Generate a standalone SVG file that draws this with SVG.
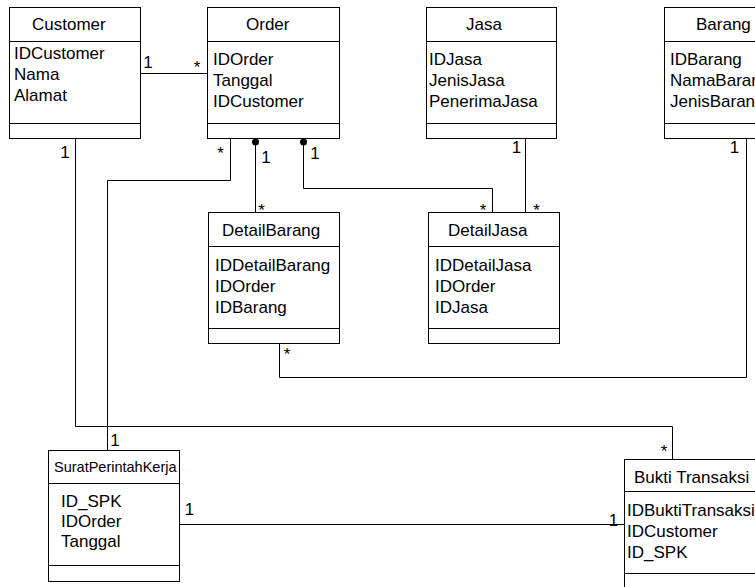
<svg xmlns="http://www.w3.org/2000/svg" width="755" height="587" viewBox="0 0 755 587">
<defs>
<style>
.box{fill:#fff;stroke:#000;stroke-width:1}
.sep{fill:none;stroke:#000;stroke-width:1}
.ln{fill:none;stroke:#000;stroke-width:1}
text{font-family:"Liberation Sans",Arial,sans-serif;font-size:17px;fill:#000}
.small{font-size:14.5px}
.m{text-anchor:middle}
</style>
<marker id="dot" markerUnits="userSpaceOnUse" markerWidth="10" markerHeight="12" refX="5" refY="2" orient="0">
<circle cx="5" cy="5.5" r="3.5" fill="#000"/>
</marker>
</defs>
<rect width="755" height="587" fill="#fff"/>

<g id="connectors">
<path class="ln" d="M140.5 73.5H207.5"/>
<path class="ln" d="M75.5 138.5V426.5H672.5V459.5"/>
<path class="ln" d="M230.5 138.5V180.5H107.5V450.5"/>
<path class="ln" d="M255.5 138.5V212.5" marker-start="url(#dot)"/>
<path class="ln" d="M303.5 138.5V188.5H492.5V212.5" marker-start="url(#dot)"/>
<path class="ln" d="M525.5 138.5V212.5"/>
<path class="ln" d="M746.5 138.5V377.5H279.5V343.5"/>
<path class="ln" d="M179.5 524.5H624.5"/>
<text class="m" x="148" y="68">1</text>
<text class="m" x="197" y="72.5">*</text>
<text class="m" x="65" y="158">1</text>
<text class="m" x="220.5" y="158.5">*</text>
<text class="m" x="266" y="163">1</text>
<text class="m" x="315" y="159">1</text>
<text class="m" x="516.5" y="153">1</text>
<text class="m" x="734.5" y="153">1</text>
<text class="m" x="261.5" y="215.5">*</text>
<text class="m" x="483" y="215.5">*</text>
<text class="m" x="536.5" y="215.5">*</text>
<text class="m" x="287" y="359.5">*</text>
<text class="m" x="664" y="456.5">*</text>
<text class="m" x="115" y="446">1</text>
<text class="m" x="189.5" y="515">1</text>
<text class="m" x="613.5" y="526">1</text>
</g>

<g id="customer">
<rect class="box" x="9.5" y="7.5" width="131" height="131"/>
<path class="sep" d="M9.5 41.5H140.5M9.5 123.5H140.5"/>
<text x="32" y="30">Customer</text>
<text x="14" y="59">IDCustomer</text>
<text x="14" y="80">Nama</text>
<text x="14" y="101">Alamat</text>
</g>

<g id="order">
<rect class="box" x="207.5" y="7.5" width="132" height="131"/>
<path class="sep" d="M207.5 41.5H339.5M207.5 123.5H339.5"/>
<text x="246" y="30">Order</text>
<text x="213" y="65">IDOrder</text>
<text x="213" y="86">Tanggal</text>
<text x="213" y="107">IDCustomer</text>
</g>

<g id="jasa">
<rect class="box" x="426.5" y="7.5" width="130" height="131"/>
<path class="sep" d="M426.5 41.5H556.5M426.5 123.5H556.5"/>
<text x="466" y="30">Jasa</text>
<text x="429" y="65">IDJasa</text>
<text x="429" y="86">JenisJasa</text>
<text x="429" y="107">PenerimaJasa</text>
</g>

<g id="barang">
<rect class="box" x="664.5" y="7.5" width="131" height="131"/>
<path class="sep" d="M664.5 41.5H795.5M664.5 123.5H795.5"/>
<text x="696" y="30">Barang</text>
<text x="670" y="65">IDBarang</text>
<text x="670" y="86">NamaBarang</text>
<text x="670" y="107">JenisBarang</text>
</g>

<g id="detailbarang">
<rect class="box" x="208.5" y="212.5" width="131" height="131"/>
<path class="sep" d="M208.5 246.5H339.5M208.5 328.5H339.5"/>
<text x="222" y="236">DetailBarang</text>
<text x="215" y="271">IDDetailBarang</text>
<text x="215" y="292">IDOrder</text>
<text x="215" y="313">IDBarang</text>
</g>

<g id="detailjasa">
<rect class="box" x="428.5" y="212.5" width="131" height="131"/>
<path class="sep" d="M428.5 246.5H559.5M428.5 328.5H559.5"/>
<text x="448" y="236">DetailJasa</text>
<text x="435" y="271">IDDetailJasa</text>
<text x="435" y="292">IDOrder</text>
<text x="435" y="313">IDJasa</text>
</g>

<g id="suratperintahkerja">
<rect class="box" x="48.5" y="450.5" width="131" height="131"/>
<path class="sep" d="M48.5 483.5H179.5M48.5 565.5H179.5"/>
<text class="small" x="54" y="472">SuratPerintahKerja</text>
<text x="61" y="507">ID_SPK</text>
<text x="61" y="527">IDOrder</text>
<text x="61" y="547">Tanggal</text>
</g>

<g id="buktitransaksi">
<rect class="box" x="624.5" y="459.5" width="131" height="131"/>
<path class="sep" d="M624.5 491.5H755.5M624.5 573.5H755.5"/>
<text x="634" y="483">Bukti Transaksi</text>
<text x="627" y="516">IDBuktiTransaksi</text>
<text x="627" y="537">IDCustomer</text>
<text x="627" y="558">ID_SPK</text>
</g>
</svg>
